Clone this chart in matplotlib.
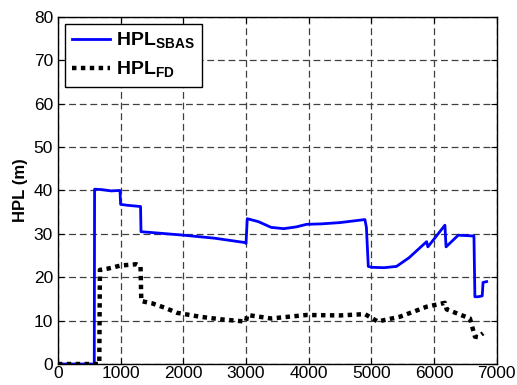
import numpy as np
import matplotlib
matplotlib.use('Agg')
import matplotlib.pyplot as plt

plt.rcParams['font.family'] = ['Liberation Sans', 'DejaVu Sans']
plt.rcParams['mathtext.fontset'] = 'custom'
plt.rcParams['mathtext.rm'] = 'Liberation Sans:bold'
plt.rcParams['mathtext.bf'] = 'Liberation Sans:bold'

# HPL SBAS (solid blue)
sbas_x = [0, 580, 585, 700, 850, 990, 1000, 1100, 1318, 1325, 1500, 2000, 2500,
          2980, 3000, 3020, 3200, 3400, 3600, 3800, 3966, 4200, 4500, 4896,
          4920, 4950, 5000, 5200, 5400, 5600, 5880, 5900, 6172, 6190, 6385,
          6635, 6650, 6700, 6767, 6780, 6837]
sbas_y = [0, 0, 40.3, 40.2, 39.9, 40.0, 36.8, 36.6, 36.3, 30.5, 30.3, 29.7, 29.0,
          28.0, 27.8, 33.5, 32.8, 31.5, 31.2, 31.6, 32.2, 32.3, 32.6, 33.3,
          31.5, 22.5, 22.3, 22.2, 22.5, 24.5, 28.2, 27.0, 32.0, 27.0, 29.7,
          29.5, 15.5, 15.5, 15.7, 18.8, 19.0]

# HPL FD (dotted black)
fd_x = [0, 660, 670, 800, 1000, 1250, 1318, 1330, 1500, 1700, 1900, 2265, 2600,
        2982, 3000, 3020, 3400, 3966, 4500, 4896, 5100, 5455, 5880, 6172, 6200,
        6571, 6651, 6700, 6780]
fd_y = [0, 0, 21.7, 22.0, 22.7, 23.0, 22.5, 14.5, 14.0, 13.0, 11.8, 10.9, 10.3,
        9.8, 9.8, 11.3, 10.5, 11.3, 11.2, 11.5, 9.8, 10.9, 13.2, 14.1, 12.6,
        10.5, 6.3, 6.2, 7.1]

fig = plt.figure(figsize=(5.17, 3.85), dpi=100)
ax = fig.add_axes([0.112, 0.0545, 0.849, 0.9015])

ax.plot(sbas_x, sbas_y, color='#0000ff', linewidth=2, label=r'HPL$_{\mathbf{SBAS}}$')
fd_line, = ax.plot(fd_x, fd_y, color='black', linewidth=3.2, label=r'HPL$_{\mathbf{FD}}$')
fd_line.set_dashes([1, 1])
fd_line.set_dash_capstyle('butt')

ax.set_xlim(0, 7000)
ax.set_ylim(0, 80)
ax.set_xticks(np.arange(0, 7001, 1000))
ax.set_yticks(np.arange(0, 81, 10))
ax.tick_params(direction='in', top=True, right=True, labelsize=12.5, length=4)
ax.tick_params(axis='x', pad=1.5)
ax.grid(True, color='#404040', linestyle=(0, (5.5, 3)), linewidth=0.9)
ax.set_ylabel('HPL (m)', fontsize=12, fontweight='bold', labelpad=4)
for s in ax.spines.values():
    s.set_linewidth(1.0)

leg = ax.legend(loc='upper left', prop={'weight': 'bold', 'size': 14},
                fancybox=False, edgecolor='black', framealpha=1,
                borderaxespad=0.35, handlelength=2.0, handletextpad=0.3,
                borderpad=0.35, labelspacing=0.45)
leg.get_frame().set_linewidth(1.0)

fig.savefig('out.png', dpi=100)
